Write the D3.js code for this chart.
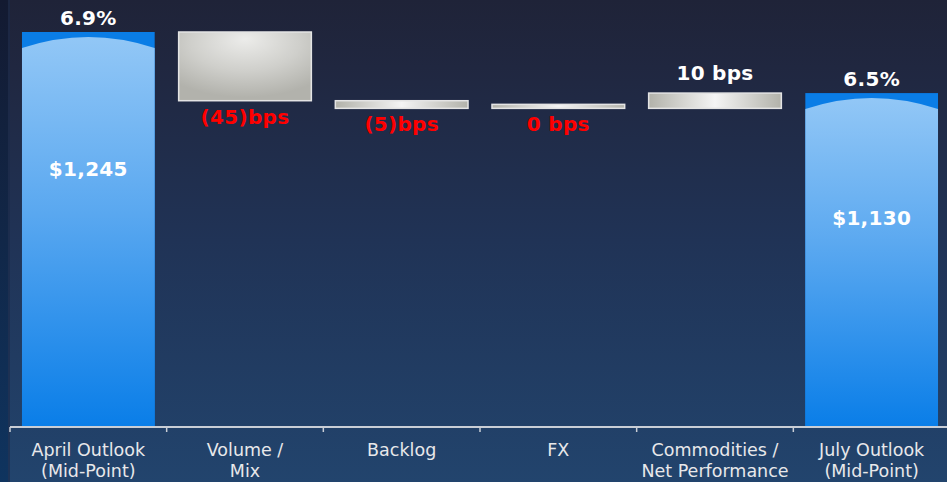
<!DOCTYPE html>
<html>
<head>
<meta charset="utf-8">
<script src="https://cdn.jsdelivr.net/npm/d3@7"></script>
<style>
  html, body { margin: 0; padding: 0; background: #21345a; }
  svg { display: block; }
  text { font-family: "DejaVu Sans", Verdana, sans-serif; }
</style>
</head>
<body>
<svg id="chart" width="947" height="482"></svg>
<script>
// Operating margin bridge: April outlook to July outlook
const categories = ["April Outlook", "Volume / Mix", "Backlog", "FX", "Commodities / Net Performance", "July Outlook"];
const categoryLines = [
  ["April Outlook", "(Mid-Point)"],
  ["Volume /", "Mix"],
  ["Backlog"],
  ["FX"],
  ["Commodities /", "Net Performance"],
  ["July Outlook", "(Mid-Point)"]
];
const startMargin = 6.9;            // %
const endMargin = 6.5;              // %
const deltaBps = [-45, -5, 0, 10];  // Volume/Mix, Backlog, FX, Commodities
const totalDollars = ["$1,245", "$1,130"];

const W = 947, H = 482;
const svg = d3.select("#chart");
const defs = svg.append("defs");

// Background
const bg = defs.append("linearGradient").attr("id", "bg").attr("x1", 0).attr("y1", 0).attr("x2", 0).attr("y2", 1);
[[0, "#1f2338"], [0.14, "#202740"], [0.5, "#203356"], [1, "#22446d"]].forEach(([o, c]) =>
  bg.append("stop").attr("offset", o).attr("stop-color", c));
svg.append("rect").attr("width", W).attr("height", H).attr("fill", "url(#bg)");

const edge = defs.append("linearGradient").attr("id", "edge").attr("x1", 0).attr("y1", 0).attr("x2", 0).attr("y2", 1);
[[0, "#131a31"], [1, "#0f345f"]].forEach(([o, c]) => edge.append("stop").attr("offset", o).attr("stop-color", c));
svg.append("rect").attr("x", 0).attr("y", 0).attr("width", 8).attr("height", H).attr("fill", "url(#edge)");
svg.append("rect").attr("x", 8).attr("y", 0).attr("width", 2).attr("height", H).attr("fill", "#1b2a4a").attr("opacity", 0.6);

// Bar fills
const blue = defs.append("linearGradient").attr("id", "blueFill").attr("x1", 0).attr("y1", 0).attr("x2", 0).attr("y2", 1);
[[0, "#92c7f6"], [0.45, "#5aa8f0"], [1, "#0a7ee8"]].forEach(([o, c]) =>
  blue.append("stop").attr("offset", o).attr("stop-color", c));

const grey = defs.append("radialGradient").attr("id", "greyFill")
  .attr("cx", 0.5).attr("cy", 0.2).attr("r", 0.75).attr("fx", 0.5).attr("fy", 0.1);
[[0, "#ececea"], [0.55, "#cfcfcb"], [1, "#b2b2ac"]].forEach(([o, c]) =>
  grey.append("stop").attr("offset", o).attr("stop-color", c));

const greyThin = defs.append("linearGradient").attr("id", "greyThin").attr("x1", 0).attr("y1", 0).attr("x2", 1).attr("y2", 0);
[[0, "#b2b2aa"], [0.5, "#f4f4f4"], [1, "#b2b2aa"]].forEach(([o, c]) =>
  greyThin.append("stop").attr("offset", o).attr("stop-color", c));

// Scales
const x = d3.scaleBand().domain(categories).range([10, 950]).paddingInner(0.153).paddingOuter(0.0765);
const y = d3.scaleLinear().domain([4.32, 6.9]).range([426, 32]);
const baseline = y.range()[0];

// Waterfall steps
let level = startMargin;
const steps = deltaBps.map((d, i) => {
  const from = level;
  level = level + d / 100;
  return { cat: categories[i + 1], bps: d, from, to: level };
});
const totals = [
  { cat: categories[0], value: startMargin, dollars: totalDollars[0] },
  { cat: categories[5], value: endMargin, dollars: totalDollars[1] }
];

const labelSize = 20;

// Total bars with domed top
const bw = x.bandwidth();
const tot = svg.append("g").selectAll("g").data(totals).join("g");
tot.append("rect")
  .attr("x", d => x(d.cat)).attr("y", d => y(d.value))
  .attr("width", bw).attr("height", d => baseline - y(d.value))
  .attr("fill", "#0a7de6");
tot.append("path")
  .attr("d", d => {
    const x0 = x(d.cat), x1 = x0 + bw, t = y(d.value);
    return `M${x0},${t + 16} Q${x0 + bw / 2},${t - 6} ${x1},${t + 16} L${x1},${baseline} L${x0},${baseline} Z`;
  })
  .attr("fill", "url(#blueFill)");
tot.append("text")
  .attr("x", d => x(d.cat) + bw / 2).attr("y", d => y(d.value) - 7)
  .attr("text-anchor", "middle").attr("fill", "#ffffff")
  .attr("font-size", labelSize).attr("font-weight", "bold").attr("letter-spacing", 0.3)
  .text(d => d3.format(".1f")(d.value) + "%");
tot.append("text")
  .attr("x", d => x(d.cat) + bw / 2)
  .attr("y", d => { const t = y(d.value); return t + 0.2 * (baseline - t) + 65; })
  .attr("text-anchor", "middle").attr("fill", "#ffffff")
  .attr("font-size", labelSize).attr("font-weight", "bold").attr("letter-spacing", 0.3)
  .text(d => d.dollars);

// Floating change bars
const minH = 4;
const st = svg.append("g").selectAll("g").data(steps).join("g");
st.append("rect")
  .attr("x", d => x(d.cat))
  .attr("y", d => {
    const top = y(Math.max(d.from, d.to)), bot = y(Math.min(d.from, d.to));
    return bot - top < minH ? bot - minH : top;
  })
  .attr("width", bw)
  .attr("height", d => Math.max(minH, y(Math.min(d.from, d.to)) - y(Math.max(d.from, d.to))))
  .attr("fill", d => (Math.abs(y(d.from) - y(d.to)) > 30 ? "url(#greyFill)" : "url(#greyThin)"))
  .attr("stroke", "#e4e4e4").attr("stroke-width", 1.5);

const fmtBps = d => d < 0 ? `(${-d})bps` : `${d} bps`;
st.append("text")
  .attr("x", d => x(d.cat) + bw / 2)
  .attr("y", d => d.bps > 0 ? y(d.to) - 13 : y(Math.min(d.from, d.to)) + 23)
  .attr("text-anchor", "middle")
  .attr("fill", d => d.bps > 0 ? "#ffffff" : "#ff0000")
  .attr("font-size", labelSize).attr("font-weight", "bold").attr("letter-spacing", 0.3)
  .text(d => fmtBps(d.bps));

// Category axis
const axis = svg.append("g");
const step = x.step();
const bounds = categories.map(c => x(c) - step * x.paddingInner() / 2);
axis.append("line")
  .attr("x1", bounds[0]).attr("x2", W).attr("y1", baseline + 1).attr("y2", baseline + 1)
  .attr("stroke", "#c9ced6").attr("stroke-width", 2);
axis.selectAll("line.tick").data(bounds).join("line").attr("class", "tick")
  .attr("x1", d => d).attr("x2", d => d).attr("y1", baseline + 1).attr("y2", baseline + 6)
  .attr("stroke", "#c9ced6").attr("stroke-width", 1.5);
const lbl = axis.selectAll("text").data(categories).join("text")
  .attr("x", d => x(d) + bw / 2).attr("y", 456)
  .attr("text-anchor", "middle").attr("fill", "#e8e8ea").attr("font-size", 17.5);
lbl.selectAll("tspan").data((d, i) => categoryLines[i]).join("tspan")
  .attr("x", function () { return this.parentNode.getAttribute("x"); })
  .attr("dy", (d, i) => i === 0 ? 0 : 21)
  .text(d => d);
</script>
</body>
</html>
